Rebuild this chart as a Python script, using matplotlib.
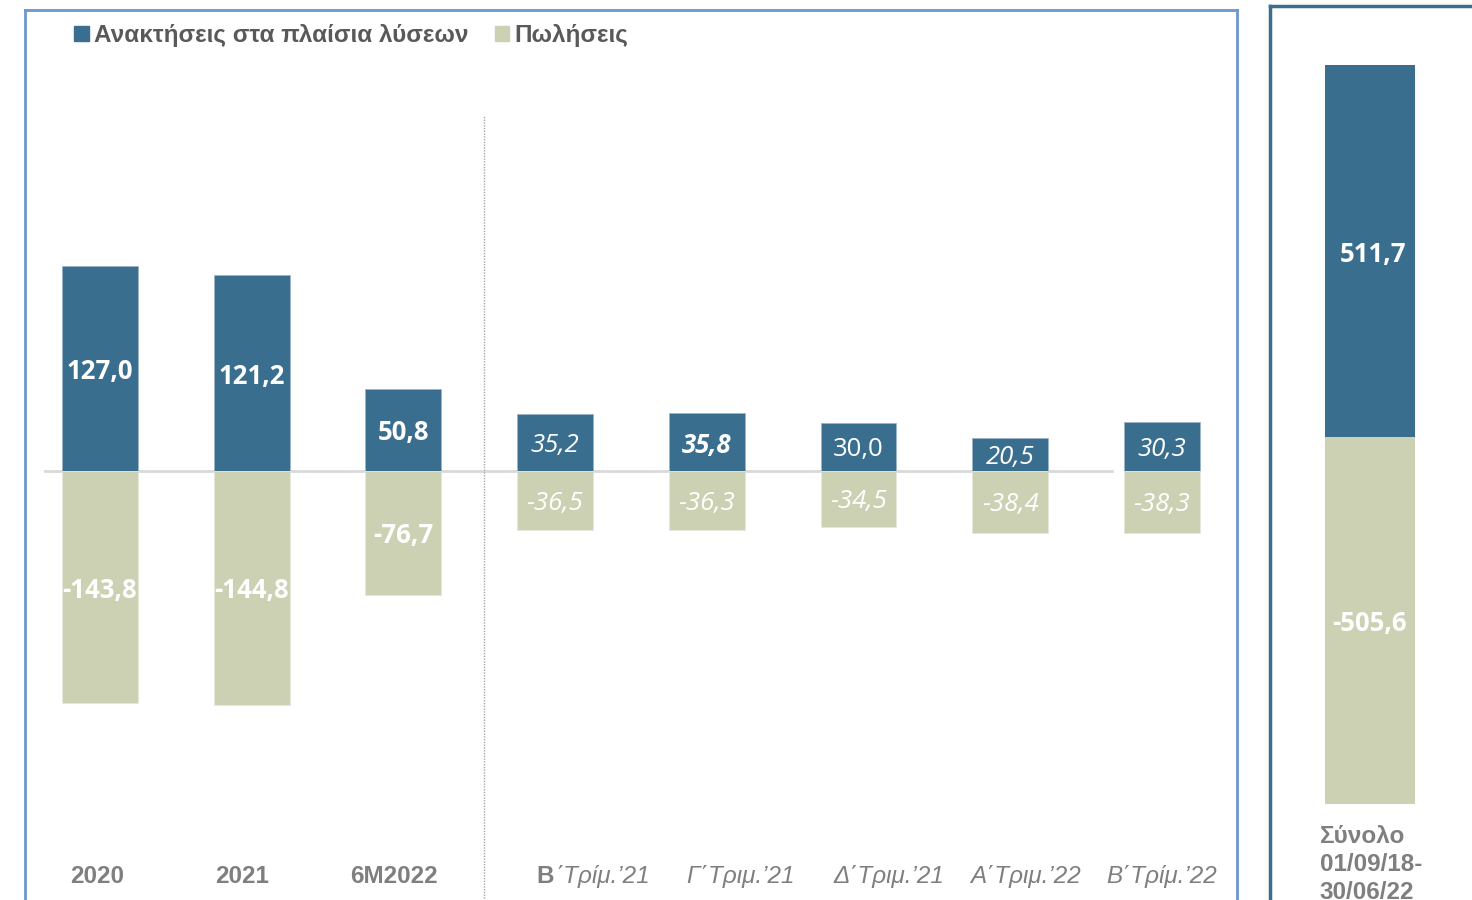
import numpy as np
import matplotlib.pyplot as plt
from matplotlib.patches import Patch

# data
categories = ['2020', '2021', '6M2022',
              'Β΄Τρίμ.’21', 'Γ΄Τριμ.’21', 'Δ΄Τριμ.’21', 'Α΄Τριμ.’22', 'Β΄Τρίμ.’22']
acquisitions = [127.0, 121.2, 50.8, 35.2, 35.8, 30.0, 20.5, 30.3]
sales = [-143.8, -144.8, -76.7, -36.5, -36.3, -34.5, -38.4, -38.3]
total_acq = 511.7
total_sales = -505.6
total_label = 'Σύνολο\n01/09/18-\n30/06/22'
legend_labels = ['Ανακτήσεις στα πλαίσια λύσεων', 'Πωλήσεις']

blue = '#3A6E8F'
beige = '#CDD1B4'
gray = '#7F7F7F'

# label styles (weight, style) per bar
acq_fmt = [('bold', 'normal')] * 3 + [('normal', 'italic'), ('bold', 'italic'),
                                      ('normal', 'normal'), ('normal', 'italic'),
                                      ('normal', 'italic')]
sal_fmt = [('bold', 'normal')] * 3 + [('normal', 'italic')] * 5
# horizontal shift of category labels (in bar units)
lab_shift = [-0.02, -0.06, -0.06, 0.24, 0.22, 0.2, 0.1, 0.0]

def fmt(v):
    return f'{v:.1f}'.replace('.', ',')

fig = plt.figure(figsize=(14.72, 9), dpi=100)

# left panel
ax = fig.add_axes([25 / 1472, -5 / 900, 1212 / 1472, 895 / 900])
x = np.arange(len(categories))
ax.bar(x, acquisitions, width=0.5, color=blue, edgecolor='#9DB4C6', linewidth=0.6, zorder=2)
ax.bar(x, sales, width=0.5, color=beige, edgecolor='#E6E8DA', linewidth=0.6, zorder=2)
ax.set_xlim(-0.494, 7.495)
ax.set_ylim(-268.9, 285.6)
ax.plot([-0.363, 6.67], [0, 0], color='#D9D9D9', lw=2, zorder=1)
ax.plot([2.53, 2.53], [-300, 220.6], color='#A6A6A6', lw=1, ls=(0, (1, 1)), zorder=1)

for i in range(len(categories)):
    w, s = acq_fmt[i]
    ax.text(x[i], acquisitions[i] / 2, fmt(acquisitions[i]), ha='center', va='center_baseline',
            color='white', fontsize=18.5, fontweight=w, fontstyle=s, family='Open Sans', zorder=3)
    w, s = sal_fmt[i]
    ax.text(x[i], sales[i] / 2, fmt(sales[i]), ha='center', va='center_baseline',
            color='white', fontsize=18.5, fontweight=w, fontstyle=s, family='Open Sans', zorder=3)

for i, c in enumerate(categories):
    xc = x[i] + lab_shift[i]
    if i < 3:
        ax.text(xc, -251.5, c, ha='center', va='center', color=gray,
                fontsize=17.5, fontweight='bold', family='Liberation Sans')
    elif i == 3:
        ax.text(xc - 0.36, -251.5, 'Β', ha='left', va='center', color=gray,
                fontsize=17.5, fontweight='bold', family='Liberation Sans')
        ax.text(xc - 0.24, -251.5, c[1:], ha='left', va='center', color=gray,
                fontsize=17.5, fontstyle='italic', family='Liberation Sans')
    else:
        ax.text(xc, -251.5, c, ha='center', va='center', color=gray,
                fontsize=17.5, fontstyle='italic', family='Liberation Sans')

ax.set_xticks([])
ax.set_yticks([])
for sp in ['left', 'top', 'right']:
    ax.spines[sp].set_color('#6A97D0')
    ax.spines[sp].set_linewidth(2)
ax.spines['bottom'].set_visible(False)

handles = [Patch(color=blue), Patch(color=beige)]
leg = ax.legend(handles, legend_labels, loc='upper left', bbox_to_anchor=(0.0225, 1.009),
                ncol=2, frameon=False, handlelength=0.6, handleheight=0.6,
                handletextpad=0.2, columnspacing=1.1,
                prop={'family': 'Liberation Sans', 'weight': 'bold', 'size': 17.5})
for t in leg.get_texts():
    t.set_color('#595959')

# right panel
ax2 = fig.add_axes([1270 / 1472, -5 / 900, 215 / 1472, 899 / 900])
ax2.bar([0], [total_acq], width=1, color=blue, zorder=2)
ax2.bar([0], [total_sales], width=1, color=beige, zorder=2)
ax2.set_xlim(-1.099, 1.264)
ax2.set_ylim(-644, 593.5)
ax2.text(0.03, total_acq / 2, fmt(total_acq), ha='center', va='center_baseline', color='white',
         fontsize=18.5, fontweight='bold', family='Open Sans')
ax2.text(0.0, total_sales / 2, fmt(total_sales), ha='center', va='center_baseline', color='white',
         fontsize=18.5, fontweight='bold', family='Open Sans')
ax2.text(-0.55, -534, total_label, ha='left', va='top', color=gray, fontsize=17.5,
         fontweight='bold', family='Liberation Sans', linespacing=1.28)
ax2.set_xticks([])
ax2.set_yticks([])
for sp in ['left', 'top']:
    ax2.spines[sp].set_color(blue)
    ax2.spines[sp].set_linewidth(2.5)
ax2.spines['bottom'].set_visible(False)
ax2.spines['right'].set_visible(False)

fig.savefig('out.png', dpi=100)
